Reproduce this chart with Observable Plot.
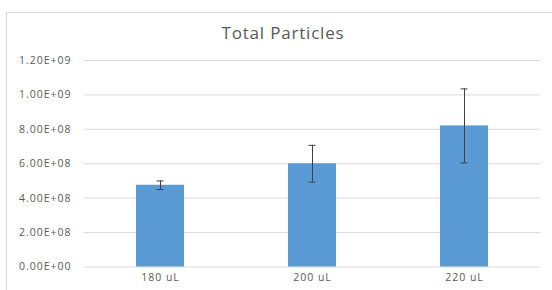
<!DOCTYPE html>
<html><head><meta charset="utf-8">
<script src="https://cdn.jsdelivr.net/npm/d3@7"></script>
<script src="https://cdn.jsdelivr.net/npm/@observablehq/plot@0.6"></script>
<style>
html,body{margin:0;padding:0;background:#fff;}
#wrap{position:relative;width:552px;height:290px;overflow:hidden;font-family:"Open Sans",sans-serif;}
#frame{position:absolute;left:6px;top:12px;width:600px;height:400px;border:1px solid #d9d9d9;box-sizing:border-box;}
#title{position:absolute;left:0;width:566px;top:21px;text-align:center;font-size:17px;letter-spacing:0.8px;color:#595959;}
#chart{position:absolute;left:0;top:0;}
#chart svg text{letter-spacing:1px;}
</style></head>
<body>
<div id="wrap"><div id="frame"></div><div id="chart"></div><div id="title">Total Particles</div></div>
<script>
const categories = ["180 uL", "200 uL", "220 uL"];
const values = [4.75e8, 6.0e8, 8.2e8];
const errors = [0.25e8, 1.07e8, 2.15e8];
const yTicks = [0, 2e8, 4e8, 6e8, 8e8, 1e9, 1.2e9];
const titleText = "Total Particles";

const data = categories.map((c, i) => ({cat: c, v: values[i], lo: values[i] - errors[i], hi: values[i] + errors[i]}));
const fmt = v => {
  if (v === 0) return "0.00E+00";
  const e = Math.floor(Math.log10(v));
  const m = v / Math.pow(10, e);
  return m.toFixed(2) + "E+" + String(e).padStart(2, "0");
};
const chart = Plot.plot({
  width: 552, height: 290,
  marginLeft: 84, marginRight: 12, marginTop: 60, marginBottom: 23.5,
  style: {fontFamily: "'Open Sans', sans-serif", fontSize: "10.5px", color: "#595959", background: "transparent"},
  x: {domain: categories, paddingInner: 0.684, paddingOuter: 0.342, label: null, tickSize: 0, tickPadding: 7},
  y: {domain: [0, 1.2e9], ticks: yTicks, tickFormat: fmt, label: null, tickSize: 0, tickPadding: 13},
  marks: [
    Plot.ruleY(yTicks, {stroke: "#d9d9d9", strokeWidth: 1}),
    Plot.barY(data, {x: "cat", y: "v", fill: "#5b9bd5"}),
    Plot.ruleX(data, {x: "cat", y1: "lo", y2: "hi", stroke: "#404040", strokeWidth: 1}),
    Plot.tickY(data, {x: "cat", y: "lo", stroke: "#404040", strokeWidth: 1, insetLeft: 20.5, insetRight: 20.5}),
    Plot.tickY(data, {x: "cat", y: "hi", stroke: "#404040", strokeWidth: 1, insetLeft: 20.5, insetRight: 20.5})
  ]
});
document.getElementById("chart").appendChild(chart);
document.getElementById("title").textContent = titleText;
</script>
</body></html>
